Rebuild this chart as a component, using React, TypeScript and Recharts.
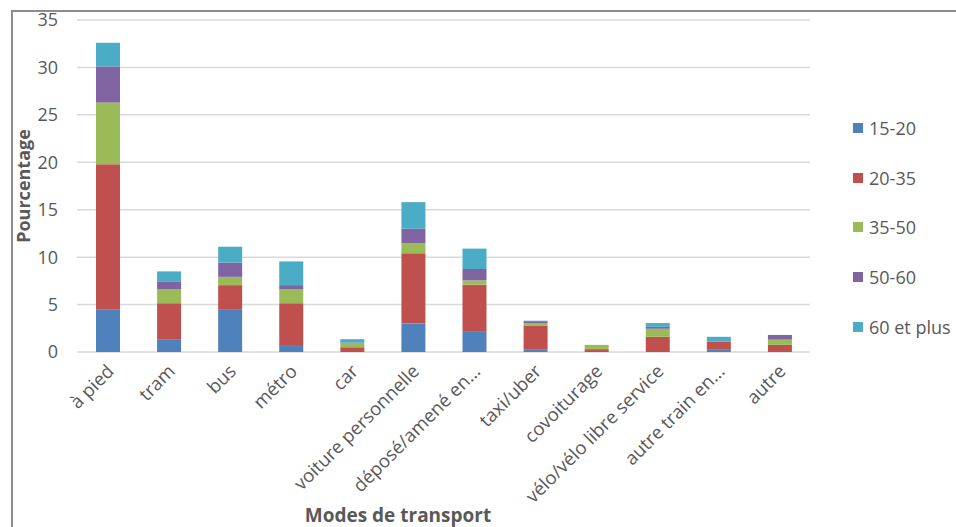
import React from "react";
import { BarChart, Bar, XAxis, YAxis, CartesianGrid, Legend, Label } from "recharts";

// Share of each transport mode, split by age group (percent)
const modes = [
  "à pied",
  "tram",
  "bus",
  "métro",
  "car",
  "voiture personnelle",
  "déposé/amené en...",
  "taxi/uber",
  "covoiturage",
  "vélo/vélo libre service",
  "autre train en...",
  "autre",
];

const age15to20 = [4.5, 1.3, 4.45, 0.75, 0, 3.0, 2.2, 0.3, 0, 0, 0.3, 0];
const age20to35 = [15.3, 3.85, 2.6, 4.4, 0.5, 7.4, 4.9, 2.5, 0.3, 1.6, 0.8, 0.75];
const age35to50 = [6.5, 1.45, 0.87, 1.45, 0.45, 1.05, 0.45, 0.25, 0.45, 0.85, 0, 0.55];
const age50to60 = [3.8, 0.85, 1.5, 0.45, 0.05, 1.55, 1.2, 0.2, 0, 0.2, 0, 0.5];
const age60plus = [2.5, 1.05, 1.68, 2.5, 0.35, 2.8, 2.15, 0.05, 0, 0.4, 0.5, 0];

const yTicks = [0, 5, 10, 15, 20, 25, 30, 35];

const seriesDefs = [
  { key: "a", name: "15-20", color: "#4F81BD", values: age15to20 },
  { key: "b", name: "20-35", color: "#C0504D", values: age20to35 },
  { key: "c", name: "35-50", color: "#9BBB59", values: age35to50 },
  { key: "d", name: "50-60", color: "#8064A2", values: age50to60 },
  { key: "e", name: "60 et plus", color: "#4BACC6", values: age60plus },
];

const data = modes.map((mode, i) => {
  const row: Record<string, string | number> = { mode };
  seriesDefs.forEach((s) => {
    row[s.key] = s.values[i];
  });
  return row;
});

const FONT = "'Open Sans', Lato, sans-serif";
const TEXT = "#595959";
const LEGEND_W = 110;

const ModeTick = (props: any) => {
  const { x, y, payload } = props;
  return (
    <g transform={`translate(${x + 4},${y + 9})`}>
      <text
        x={0}
        y={0}
        textAnchor="end"
        dominantBaseline="middle"
        transform="rotate(-45)"
        fill={TEXT}
        fontFamily={FONT}
        fontSize={18.5}
      >
        {payload.value}
      </text>
    </g>
  );
};

const AgeLegend = () => (
  <div style={{ fontFamily: FONT, fontSize: 18, color: TEXT }}>
    {seriesDefs.map((s) => (
      <div
        key={s.key}
        style={{ display: "flex", alignItems: "center", height: 49.7, whiteSpace: "nowrap" }}
      >
        <span
          style={{ display: "inline-block", width: 10, height: 10, background: s.color, marginRight: 6 }}
        />
        <span>{s.name}</span>
      </div>
    ))}
  </div>
);

export default function App() {
  return (
    <div
      style={{
        position: "absolute",
        left: 0,
        top: 0,
        width: 956,
        height: 527,
        background: "#fff",
        overflow: "hidden",
      }}
    >
      <div
        style={{
          position: "absolute",
          left: 11,
          top: 10,
          width: 960,
          height: 530,
          borderTop: "2px solid #8c8c8c",
          borderLeft: "2px solid #8c8c8c",
        }}
      />
      <BarChart
        width={956}
        height={527}
        data={data}
        margin={{ top: 20, right: 146 - LEGEND_W, bottom: 0, left: 0 }}
        barSize={24}
        style={{ position: "absolute", left: 0, top: 0 }}
      >
        <CartesianGrid vertical={false} stroke="#d9d9d9" strokeWidth={1.5} />
        <XAxis
          dataKey="mode"
          interval={0}
          height={175}
          axisLine={false}
          tickLine={false}
          tick={<ModeTick />}
        >
          <Label
            content={() => (
              <text
                x={398}
                y={522}
                textAnchor="middle"
                fill={TEXT}
                fontFamily={FONT}
                fontWeight={700}
                fontSize={19}
              >
                Modes de transport
              </text>
            )}
          />
        </XAxis>
        <YAxis
          width={77}
          domain={[0, 35]}
          ticks={yTicks}
          interval={0}
          axisLine={false}
          tickLine={false}
          tickMargin={13}
          tick={{ fill: TEXT, fontFamily: FONT, fontSize: 18 }}
        >
          <Label
            content={() => (
              <text
                x={0}
                y={0}
                transform="translate(30,186) rotate(-90)"
                textAnchor="middle"
                fill={TEXT}
                fontFamily={FONT}
                fontWeight={700}
                fontSize={18}
              >
                Pourcentage
              </text>
            )}
          />
        </YAxis>
        <Legend
          layout="vertical"
          align="right"
          verticalAlign="top"
          content={<AgeLegend />}
          wrapperStyle={{ left: 853, top: 103, width: LEGEND_W }}
        />
        {seriesDefs.map((s) => (
          <Bar
            key={s.key}
            dataKey={s.key}
            name={s.name}
            stackId="age"
            fill={s.color}
            isAnimationActive={false}
          />
        ))}
      </BarChart>
    </div>
  );
}
